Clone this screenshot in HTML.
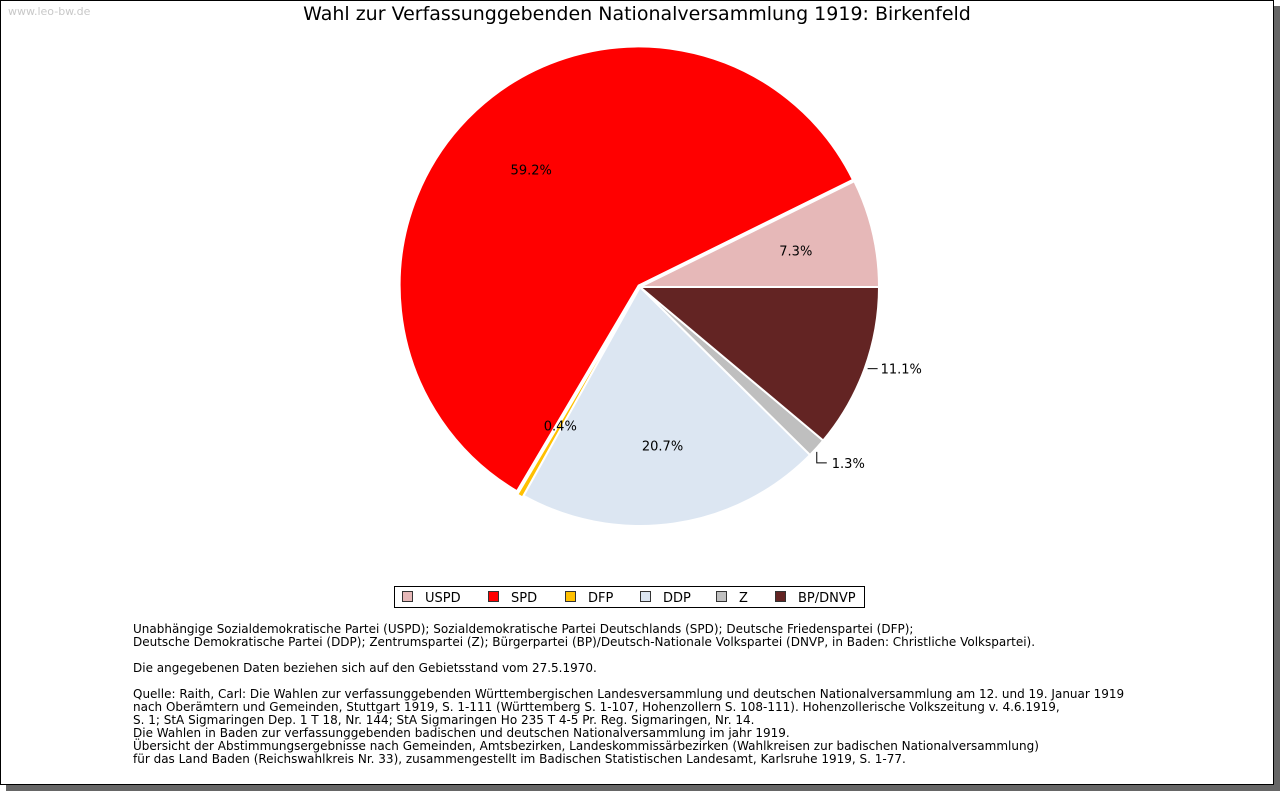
<!DOCTYPE html>
<html><head><meta charset="utf-8"><style>
body{margin:0;background:#fff;width:1280px;height:791px;overflow:hidden;font-family:"DejaVu Sans","Liberation Sans",sans-serif}
#frame{position:absolute;left:0;top:0;width:1272px;height:783px;border:1px solid #000;background:#fff;box-shadow:6px 6px 0 #666}
#wm{position:absolute;left:8px;top:5px;font-size:11px;color:#c8c8c8}
#title{position:absolute;left:0;width:1274px;top:3px;text-align:center;font-size:19px;color:#000}
#notes{position:absolute;left:133px;top:623px;font-size:12px;line-height:13px;color:#000;white-space:pre}
</style></head><body>
<div id="frame"></div>
<div id="wm">www.leo-bw.de</div>
<div id="title">Wahl zur Verfassunggebenden Nationalversammlung 1919: Birkenfeld</div>
<svg id="chart" width="1280" height="791" style="position:absolute;left:0;top:0"></svg>
<div id="notes">Unabhängige Sozialdemokratische Partei (USPD); Sozialdemokratische Partei Deutschlands (SPD); Deutsche Friedenspartei (DFP);
Deutsche Demokratische Partei (DDP); Zentrumspartei (Z); Bürgerpartei (BP)/Deutsch-Nationale Volkspartei (DNVP, in Baden: Christliche Volkspartei).

Die angegebenen Daten beziehen sich auf den Gebietsstand vom 27.5.1970.

Quelle: Raith, Carl: Die Wahlen zur verfassunggebenden Württembergischen Landesversammlung und deutschen Nationalversammlung am 12. und 19. Januar 1919
nach Oberämtern und Gemeinden, Stuttgart 1919, S. 1-111 (Württemberg S. 1-107, Hohenzollern S. 108-111). Hohenzollerische Volkszeitung v. 4.6.1919,
S. 1; StA Sigmaringen Dep. 1 T 18, Nr. 144; StA Sigmaringen Ho 235 T 4-5 Pr. Reg. Sigmaringen, Nr. 14.
Die Wahlen in Baden zur verfassunggebenden badischen und deutschen Nationalversammlung im jahr 1919.
Übersicht der Abstimmungsergebnisse nach Gemeinden, Amtsbezirken, Landeskommissärbezirken (Wahlkreisen zur badischen Nationalversammlung)
für das Land Baden (Reichswahlkreis Nr. 33), zusammengestellt im Badischen Statistischen Landesamt, Karlsruhe 1919, S. 1-77.</div>
<script>
const parties = ["USPD","SPD","DFP","DDP","Z","BP/DNVP"];
const shares = [7.3,59.2,0.4,20.7,1.3,11.1];
const colors = ["#e6b8b8","#ff0000","#ffc000","#dce6f2","#bfbfbf","#632423"];
const NS="http://www.w3.org/2000/svg";
const svg=document.getElementById('chart');
const cx=640,cy=287,R=239;
const total=shares.reduce((a,b)=>a+b,0);
function pt(a,r){return [cx+r*Math.cos(a),cy-r*Math.sin(a)];}
const slices=document.createElementNS(NS,'g');
const labels=document.createElementNS(NS,'g');
svg.appendChild(slices);svg.appendChild(labels);
let a0=0;
shares.forEach((v,i)=>{
  const a1=a0+v/total*2*Math.PI;
  const mid=(a0+a1)/2;
  const off=(i===1||i===2)?2:0;
  const dx=off*Math.cos(mid),dy=-off*Math.sin(mid);
  const p0=pt(a0,R),p1=pt(a1,R);
  const large=(a1-a0)>Math.PI?1:0;
  const p=document.createElementNS(NS,'path');
  p.setAttribute('d',`M${cx},${cy}L${p0[0]},${p0[1]}A${R},${R} 0 ${large} 0 ${p1[0]},${p1[1]}Z`);
  p.setAttribute('fill',colors[i]);p.setAttribute('stroke','#fff');p.setAttribute('stroke-width','2');
  p.setAttribute('transform',`translate(${dx},${dy})`);
  
  
  slices.appendChild(p);
  const t=document.createElementNS(NS,'text');
  t.setAttribute('font-size','13');
  t.textContent=shares[i].toFixed(1)+'%';
  
  
  if(i===5){
    const e=pt(mid,R);
    const l=document.createElementNS(NS,'line');
    l.setAttribute('x1',e[0]+3);l.setAttribute('y1',e[1]);l.setAttribute('x2',e[0]+13);l.setAttribute('y2',e[1]);
    l.setAttribute('stroke','#000');
    
    
    labels.appendChild(l);
    t.setAttribute('x',e[0]+16);t.setAttribute('y',e[1]+5);
  } else if(v>=3 || i===2){
    const q=pt(mid,160);
    t.setAttribute('x',q[0]);t.setAttribute('y',q[1]+5);t.setAttribute('text-anchor','middle');
  } else {
    const e=pt(mid,R);
    const l=document.createElementNS(NS,'polyline');
    l.setAttribute('points',`${e[0]},${e[1]+4} ${e[0]},${e[1]+15} ${e[0]+10},${e[1]+15}`);
    l.setAttribute('fill','none');l.setAttribute('stroke','#000');
    
    
    labels.appendChild(l);
    t.setAttribute('x',e[0]+15);t.setAttribute('y',e[1]+20);
  }
  labels.appendChild(t);
  a0=a1;
});
// legend
const lg=document.createElementNS(NS,'rect');
lg.setAttribute('x',394.5);lg.setAttribute('y',586.5);lg.setAttribute('width',470);lg.setAttribute('height',21);
lg.setAttribute('fill','#fff');lg.setAttribute('stroke','#000');


svg.appendChild(lg);
const lx=[402,488,565,640,716,775];
parties.forEach((n,i)=>{
  const r=document.createElementNS(NS,'rect');
  r.setAttribute('x',lx[i]+0.5);r.setAttribute('y',591.5);r.setAttribute('width',10);r.setAttribute('height',10);
  r.setAttribute('fill',colors[i]);r.setAttribute('stroke','#333');
  
  
  svg.appendChild(r);
  const t=document.createElementNS(NS,'text');
  t.setAttribute('x',lx[i]+23);t.setAttribute('y',602);t.setAttribute('font-size','13');
  t.textContent=n;
  
  
  svg.appendChild(t);
});
</script>
</body></html>
